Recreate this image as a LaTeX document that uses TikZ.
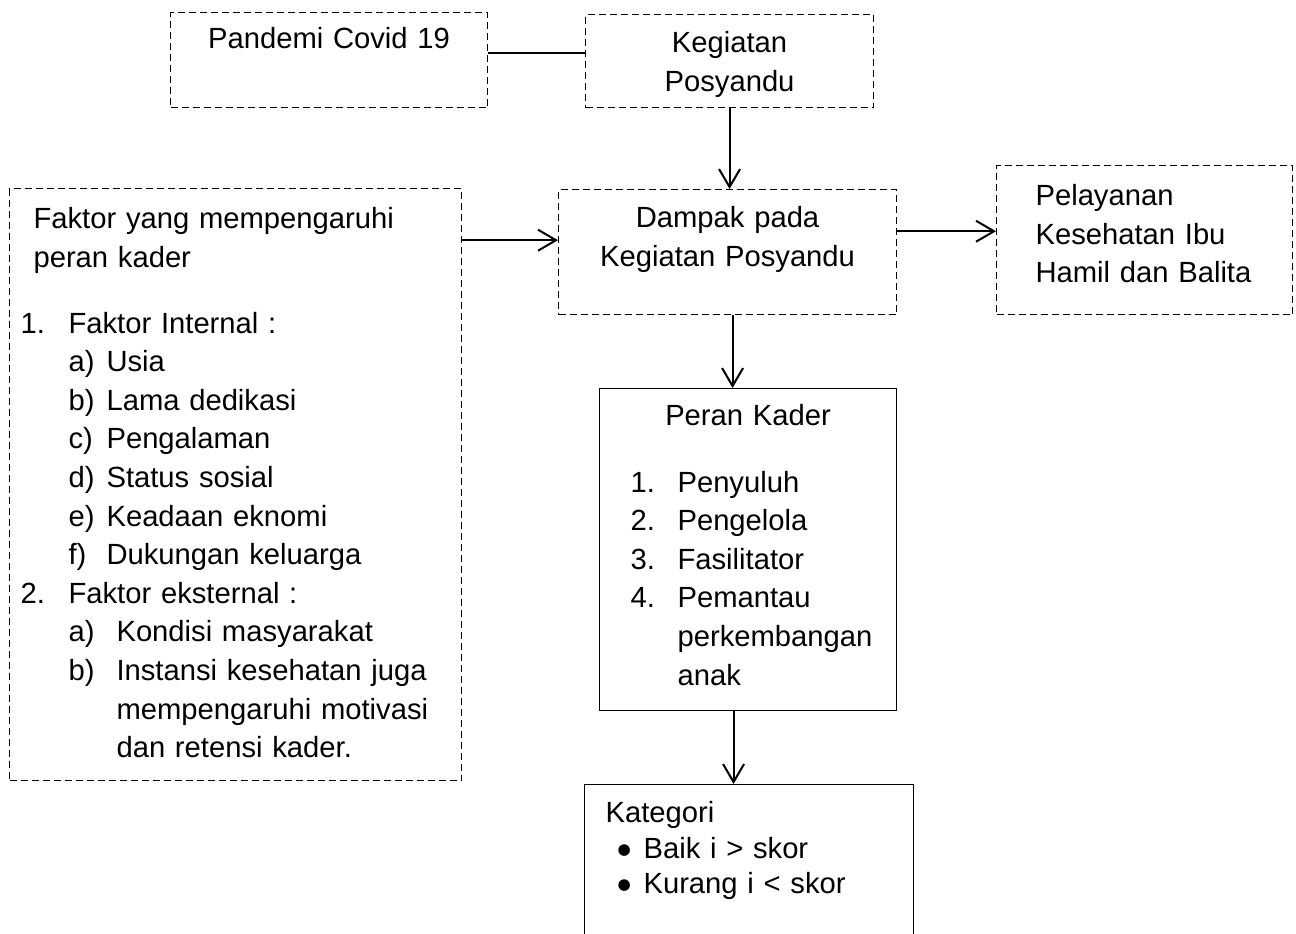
\documentclass[tikz,border=0pt]{standalone}
\usepackage{fontspec}
\setmainfont{Liberation Sans}
\newfontfamily\dotfont{DejaVu Sans}
\usetikzlibrary{arrows.meta}

\newcommand{\bulletmark}{\makebox[13pt][l]{\raisebox{1.9pt}{\dotfont\fontsize{7.6}{8}\selectfont ●}}}

\begin{document}
\begin{tikzpicture}[x=0.5pt,y=-0.5pt,->,>={Straight Barb[length=9pt,width=10.5pt]},line width=1pt,
		font=\fontsize{14.6}{19.3}\selectfont]
		\tikzstyle{dbox}=[draw,-,line width=0.55pt,dash pattern=on 3.5pt off 2pt,inner sep=0pt,anchor=north west]
		\tikzstyle{sbox}=[draw,-,line width=0.55pt,inner sep=0pt,anchor=north west]

		\useasboundingbox (0,0) rectangle (1296,933);

		\node[dbox,text width=158.5pt,align=center,text height=18pt,text depth=29.5pt] (pandemi) at (170,12) {Pandemi Covid 19};
		\node[dbox,text width=144pt,align=center,text height=19pt,text depth=27.5pt] (kegiatan) at (585,14) {Kegiatan\\Posyandu};
		\node[dbox,text width=169pt,align=center,text height=19pt,text depth=43.5pt] (dampak) at (558,189) {Dampak pada\\Kegiatan Posyandu};
		\node[dbox,inner xsep=19.5pt,text width=109pt,align=left,text height=20pt,text depth=54.5pt] (pelayanan) at (996,165)
			{Pelayanan\\Kesehatan Ibu\\Hamil dan Balita};

		\node[dbox,text width=226pt,align=left,text height=20pt,text depth=276pt] (faktor) at (9,188) {%
			\hspace*{12pt}Faktor yang mempengaruhi\\
			\hspace*{12pt}peran kader\\[13.7pt]
			\hspace*{5.5pt}\makebox[24pt][l]{1.}Faktor Internal :\\
			\hspace*{29.5pt}\makebox[19pt][l]{a)}Usia\\
			\hspace*{29.5pt}\makebox[19pt][l]{b)}Lama dedikasi\\
			\hspace*{29.5pt}\makebox[19pt][l]{c)}Pengalaman\\
			\hspace*{29.5pt}\makebox[19pt][l]{d)}Status sosial\\
			\hspace*{29.5pt}\makebox[19pt][l]{e)}Keadaan eknomi\\
			\hspace*{29.5pt}\makebox[19pt][l]{f)}Dukungan keluarga\\
			\hspace*{5.5pt}\makebox[24pt][l]{2.}Faktor eksternal :\\
			\hspace*{29.5pt}\makebox[24pt][l]{a)}Kondisi masyarakat\\
			\hspace*{29.5pt}\makebox[24pt][l]{b)}Instansi kesehatan juga\\
			\hspace*{53.5pt}mempengaruhi motivasi\\
			\hspace*{53.5pt}dan retensi kader.};

		\node[sbox,text width=148.5pt,align=left,text height=18.5pt,text depth=142.5pt] (peran) at (599,388) {%
			\makebox[148.5pt]{Peran Kader}\\[14pt]
			\hspace*{15.5pt}\makebox[23.5pt][l]{1.}Penyuluh\\
			\hspace*{15.5pt}\makebox[23.5pt][l]{2.}Pengelola\\
			\hspace*{15.5pt}\makebox[23.5pt][l]{3.}Fasilitator\\
			\hspace*{15.5pt}\makebox[23.5pt][l]{4.}Pemantau\\
			\hspace*{39pt}perkembangan\\
			\hspace*{39pt}anak};

		\node[sbox,text width=164.5pt,align=left,text height=19pt,text depth=66pt,
			font=\fontsize{14.6}{17.75}\selectfont] (kategori) at (584,784) {%
			\hspace*{10.5pt}Kategori\\
			\hspace*{16.5pt}\bulletmark Baik i > skor\\
			\hspace*{16.5pt}\bulletmark Kurang i < skor};

		\coordinate (d1) at ([xshift=2.5pt]dampak.south);
		\coordinate (p1) at ([xshift=-7.25pt]peran.south);

		\path (kegiatan.177 -| pandemi.east) edge [-]	(kegiatan.177)
			(kegiatan.south) edge	(kegiatan.south |- dampak.north)
			(dampak.176 -| faktor.east) edge	(dampak.176)
			(dampak.7) edge	(dampak.7 -| pelayanan.west)
			(d1) edge	(d1 |- peran.north)
			(p1) edge	(p1 |- kategori.north);

	\end{tikzpicture}
\end{document}
